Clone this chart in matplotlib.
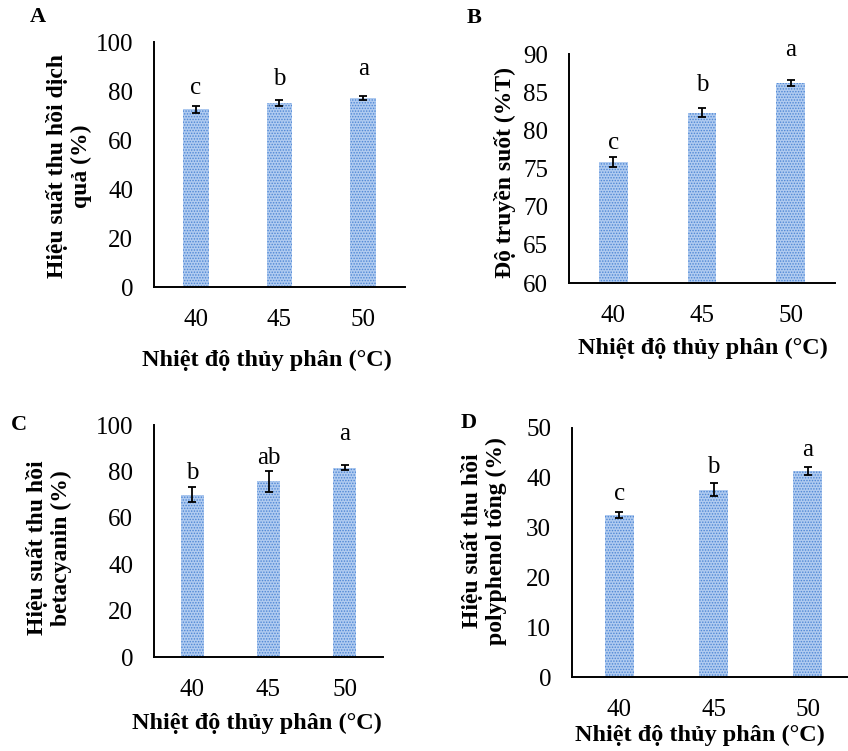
import matplotlib
matplotlib.use("Agg")
import matplotlib.pyplot as plt

plt.rcParams['font.family'] = ['Liberation Serif', 'DejaVu Serif']
plt.rcParams['hatch.linewidth'] = 0.7

W, H = 848, 751

temps = ["40", "45", "50"]

# panel A - juice recovery yield
a_mean = [72.5, 75.1, 77.2]
a_err = [1.4, 1.2, 0.9]
a_sig = ["c", "b", "a"]

# panel B - transmittance
b_mean = [75.8, 82.3, 86.2]
b_err = [0.65, 0.6, 0.45]
b_sig = ["c", "b", "a"]

# panel C - betacyanin recovery
c_mean = [70.0, 75.7, 81.6]
c_err = [3.4, 4.5, 1.0]
c_sig = ["b", "ab", "a"]

# panel D - total polyphenol recovery
d_mean = [32.6, 37.6, 41.4]
d_err = [0.6, 1.3, 0.85]
d_sig = ["c", "b", "a"]

xlab = "Nhiệt độ thủy phân (°C)"

fig = plt.figure(figsize=(W / 100, H / 100), dpi=100)


def px(x, y):
    return x / W, 1 - y / H


panels = [
    dict(mean=a_mean, err=a_err, sig=a_sig, box=(154, 405, 42, 287), ylim=(0, 100), yt=range(0, 101, 20),
         ylab="Hiệu suất thu hồi dịch\nquả (%)", ylpos=(69, 166), xlpos=(267, 360),
         tag="A", tagpos=(38, 17), bw=0.31, off=[12, 15, 21]),
    dict(mean=b_mean, err=b_err, sig=b_sig, box=(569, 835, 54, 283), ylim=(60, 90), yt=range(60, 91, 5),
         ylab="Độ truyền suốt (%T)", ylpos=(505, 173), xlpos=(703, 348),
         tag="B", tagpos=(474, 18), bw=0.32, off=[8, 17, 24]),
    dict(mean=c_mean, err=c_err, sig=c_sig, box=(154, 383, 425, 657), ylim=(0, 100), yt=range(0, 101, 20),
         ylab="Hiệu suất thu hồi\nbetacyanin (%)", ylpos=(49, 548), xlpos=(257, 723),
         tag="C", tagpos=(19, 425), bw=0.30, off=[8, 7, 25]),
    dict(mean=d_mean, err=d_err, sig=d_sig, box=(572, 855, 428, 677), ylim=(0, 50), yt=range(0, 51, 10),
         ylab="Hiệu suất thu hồi\npolyphenol tổng (%)", ylpos=(484, 541), xlpos=(700, 735),
         tag="D", tagpos=(469, 423), bw=0.31, off=[12, 10, 11]),
]

for p in panels:
    l, r, t, b = p["box"]
    ax = fig.add_axes([l / W, 1 - b / H, (r - l) / W, (b - t) / H])
    xs = range(len(temps))
    ax.bar(xs, p["mean"], width=p["bw"], color="#b0cbf0", edgecolor="#4d86d4",
           hatch="......", linewidth=0, zorder=2)
    ax.errorbar(xs, p["mean"], yerr=p["err"], fmt="none", ecolor="black",
                elinewidth=1.3, capsize=3.2, capthick=1.3, zorder=3)
    for i, (m, e, s) in enumerate(zip(p["mean"], p["err"], p["sig"])):
        ax.annotate(s, (i, m + e), xytext=(0, p["off"][i] * 0.72), textcoords="offset points",
                    ha="center", va="baseline", fontsize=18)
    ax.set_xlim(-0.5, 2.5)
    ax.set_ylim(*p["ylim"])
    ax.set_yticks(list(p["yt"]))
    ax.set_xticks(list(xs))
    ax.set_xticklabels(temps)
    ax.tick_params(length=0, labelsize=18)
    ax.tick_params(axis="x", pad=16)
    ax.tick_params(axis="y", pad=15)
    for sp in ["top", "right"]:
        ax.spines[sp].set_visible(False)
    for sp in ["left", "bottom"]:
        ax.spines[sp].set_linewidth(1.4)
        ax.spines[sp].set_color("black")
    fig.text(*px(*p["ylpos"]), p["ylab"], rotation=90, ha="center", va="center",
             fontsize=17, fontweight="bold", multialignment="center", linespacing=1.15)
    fig.text(*px(*p["xlpos"]), xlab, ha="center", va="center", fontsize=17.5, fontweight="bold")
    fig.text(*px(*p["tagpos"]), p["tag"], ha="center", va="center", fontsize=16, fontweight="bold")

fig.savefig("out.png", dpi=100)
